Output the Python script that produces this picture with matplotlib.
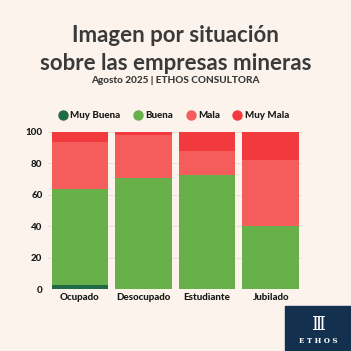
import matplotlib
matplotlib.use('Agg')
import matplotlib.pyplot as plt
from matplotlib.patches import Rectangle
import numpy as np

# datos (porcentajes)
categorias = ['Ocupado', 'Desocupado', 'Estudiante', 'Jubilado']
muy_buena = [2.5, 0, 0, 0]
buena = [61, 70.5, 72.5, 40]
mala = [30, 27.5, 15.5, 42]
muy_mala = [6.5, 2, 12, 18]

series = ['Muy Buena', 'Buena', 'Mala', 'Muy Mala']
colores = ['#1f6b45', '#68b04a', '#f55c5c', '#f23a3e']

bg = '#fcf3ec'
texto = '#3a3a3a'

plt.rcParams['font.family'] = ['Lato', 'DejaVu Sans']

fig = plt.figure(figsize=(3.51, 3.51), dpi=100, facecolor=bg)
ax = fig.add_axes([0.137, 0.176, 0.7245, 0.449], facecolor=bg)

x = np.arange(len(categorias))
datos = [muy_buena, buena, mala, muy_mala]
base = np.zeros(len(categorias))
for nombre, vals, col in zip(series, datos, colores):
    ax.bar(x, vals, bottom=base, width=0.89, color=col, label=nombre, zorder=2)
    base = base + np.array(vals)

ax.set_xlim(-0.5, 3.5)
ax.set_ylim(0, 100)
ax.set_yticks([0, 20, 40, 60, 80, 100])
ax.set_xticks(x)
ax.set_xticklabels(categorias)
ax.tick_params(length=0, labelsize=7, pad=4)
for lbl in ax.get_xticklabels() + ax.get_yticklabels():
    lbl.set_fontweight('black')
    lbl.set_color('#1a1a1a')
ax.tick_params(axis='x', pad=3)
ax.grid(axis='y', color='#e6ddd6', linewidth=0.6, zorder=0)
for s in ax.spines.values():
    s.set_visible(False)

# leyenda
leg = fig.legend(
    handles=[plt.Line2D([], [], marker='o', linestyle='', markersize=6.5, color=c) for c in colores],
    labels=series, loc='center', bbox_to_anchor=(0.493, 0.67), ncol=4, frameon=False,
    fontsize=7, handletextpad=0.15, columnspacing=1.2, borderaxespad=0, handlelength=1.2)
for t in leg.get_texts():
    t.set_fontweight('black')
    t.set_color('#1a1a1a')

# titulos
fig.text(0.5, 0.9, 'Imagen por situación', ha='center', va='center',
         fontsize=16, fontweight='bold', color=texto)
fig.text(0.5, 0.82, 'sobre las empresas mineras', ha='center', va='center',
         fontsize=16, fontweight='bold', color=texto)
fig.text(0.5, 0.772, 'Agosto 2025 | ETHOS CONSULTORA', ha='center', va='center',
         fontsize=7.2, fontweight='black', color=texto)

# logo
fig.patches.append(Rectangle((0.812, 0.0), 0.188, 0.128, transform=fig.transFigure,
                             color='#14304f', zorder=5))
fig.text(0.906, 0.075, 'Ⅲ', ha='center', va='center', fontsize=13, color='white',
         family='DejaVu Serif', zorder=6)
fig.text(0.906, 0.028, 'E T H O S', ha='center', va='center', fontsize=5,
         color='white', family='DejaVu Serif', fontweight='bold', zorder=6)

fig.savefig('out.png', dpi=100, facecolor=bg)
